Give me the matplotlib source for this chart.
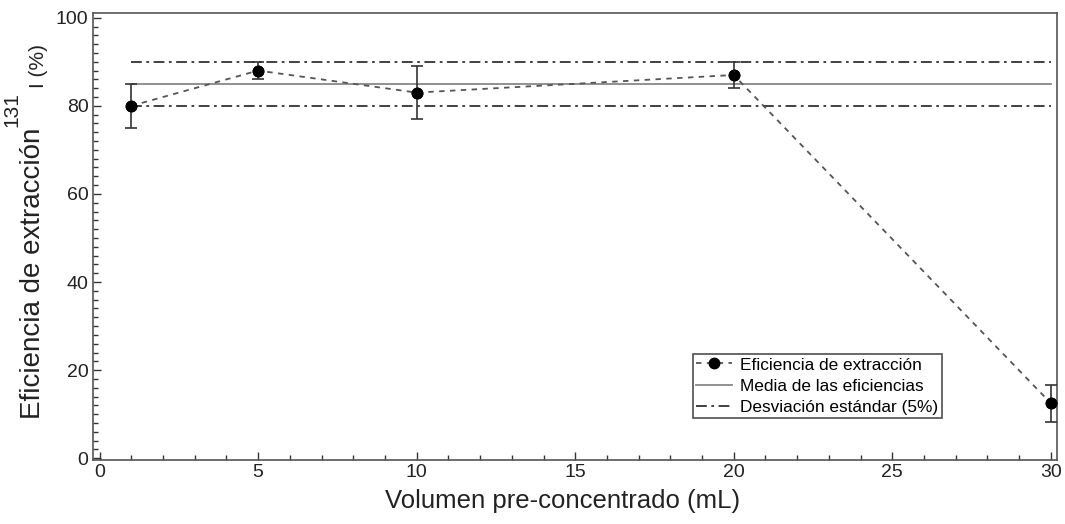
import numpy as np
import matplotlib
matplotlib.use('Agg')
import matplotlib.pyplot as plt
from matplotlib.ticker import MultipleLocator

plt.rcParams['font.family'] = ['Liberation Sans', 'DejaVu Sans']

# datos
volumen = [1, 5, 10, 20, 30]
eficiencia = [80, 88, 83, 87, 12.5]
error = [5, 2, 6, 3, 4.2]
media = 85
desv_sup = 90
desv_inf = 80
x_lineas = [1, 30]

fig = plt.figure(figsize=(10.65, 5.24), dpi=100)
ax = fig.add_axes([0.0876, 0.123, 0.905, 0.8516])

ax.errorbar(volumen, eficiencia, yerr=error, fmt='o', color='black', ms=7.5,
            ecolor='#333333', elinewidth=1.2, capsize=4, capthick=1.2, zorder=4)
l1, = ax.plot(volumen, eficiencia, color='#555555', lw=1.3, ls=(0, (3, 3)),
              marker='o', ms=7.5, mfc='black', mec='black', zorder=3)
l2, = ax.plot(x_lineas, [media, media], color='#888888', lw=1.3)
l3, = ax.plot(x_lineas, [desv_sup, desv_sup], color='#333333', lw=1.3,
              ls=(0, (6, 2.5, 1.5, 2.5)))
ax.plot(x_lineas, [desv_inf, desv_inf], color='#333333', lw=1.3,
        ls=(0, (6, 2.5, 1.5, 2.5)))

ax.set_xlim(-0.2, 30.2)
ax.set_ylim(-0.3, 101)
ax.xaxis.set_major_locator(MultipleLocator(5))
ax.xaxis.set_minor_locator(MultipleLocator(1))
ax.yaxis.set_major_locator(MultipleLocator(20))
ax.yaxis.set_minor_locator(MultipleLocator(2))
ax.tick_params(which='both', direction='in', labelsize=14, colors='#333333',
               labelcolor='#222222', width=1)
ax.tick_params(which='major', length=6)
ax.tick_params(which='minor', length=3.5)
for s in ax.spines.values():
    s.set_color('#555555')
    s.set_linewidth(1.2)

ax.set_xlabel('Volumen pre-concentrado (mL)', fontsize=18.5, color='#222222')
ax.xaxis.set_label_coords(0.487, -0.065)
ax.xaxis.label.set_va('top')
fig.text(0.031, 0.479, 'Eficiencia de extracción', rotation=90, ha='center',
         va='center', fontsize=20, color='#222222')
fig.text(0.011, 0.79, '131', rotation=90, ha='center', va='center',
         fontsize=15, color='#222222')
fig.text(0.036, 0.874, 'I (%)', rotation=90, ha='center', va='center',
         fontsize=15, color='#222222')

leg = ax.legend([l1, l2, l3],
                ['Eficiencia de extracción', 'Media de las eficiencias',
                 'Desviación estándar (5%)'],
                loc='upper left', bbox_to_anchor=(0.622, 0.2365), borderaxespad=0,
                fontsize=12.4, frameon=True, fancybox=False, edgecolor='#222222',
                handlelength=2.1, handletextpad=0.45, labelspacing=0.35,
                borderpad=0.2)
leg.get_frame().set_linewidth(1.2)

fig.savefig('out.png', dpi=100)
